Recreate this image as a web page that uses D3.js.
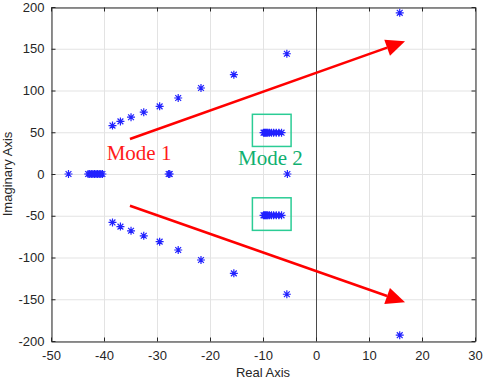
<!DOCTYPE html>
<html>
<head>
<meta charset="utf-8">
<script src="https://cdn.jsdelivr.net/npm/d3@7"></script>
<style>
	html, body { margin: 0; padding: 0; background: #fff; }
	svg { display: block; }
</style>
</head>
<body>
<svg id="chart"></svg>
<script>
// poles
const upperRe = [-38.4, -36.9, -34.9, -32.5, -29.5, -26.0, -21.7, -15.5, -5.5, 15.8];
const upperIm = [58, 63, 68, 74, 81, 91, 103, 119, 144, 193];
const lowerRe = [-38.4, -36.9, -34.9, -32.5, -29.5, -26.0, -21.7, -15.5, -5.5, 15.8];
const lowerIm = [-58, -63, -68, -74, -81, -91, -103, -119, -144, -193];
const realAxisRe = [-46.7, -43.0, -42.7, -42.4, -42.1, -41.8, -41.5, -41.2, -40.9, -40.6, -40.3, -27.8, -27.6, -5.4];
const mode2Re = [-9.9, -9.7, -9.5, -9.3, -9.1, -8.8, -8.4, -8.0, -7.5, -7.0, -6.5];
const mode2UpperIm = 49.5;
const mode2LowerIm = -49.5;

const xTicks = [-50, -40, -30, -20, -10, 0, 10, 20, 30];
const yTicks = [-200, -150, -100, -50, 0, 50, 100, 150, 200];

// annotations (data coords)
const arrows = [
	[[-35.1, 41.9], [16.8, 158.9]],
	[[-35.1, -38.0], [16.8, -153.6]],
];
const mode2Boxes = [
	{x0: -12.0, x1: -4.7, y0: 33.0, y1: 71.5},
	{x0: -12.0, x1: -4.7, y0: -67.5, y1: -28.5},
];
const labels = [
	{text: "Mode 1", x: -39.5, y: 16.8, color: "#ff1a1a"},
	{text: "Mode 2", x: -14.7, y: 10.8, color: "#10b070"},
];

const width = 484, height = 380;
const pLeft = 51, pRight = 475, pTop = 7, pBottom = 341;
const axisColor = "#262626";

const svg = d3.select("#chart").attr("width", width).attr("height", height);

const x = d3.scaleLinear([-50, 30], [pLeft, pRight]);
const y = d3.scaleLinear([-200, 200], [pBottom, pTop]);

// grid
const grid = svg.append("g").attr("stroke", "#e3e3e3").attr("stroke-width", 1);
grid.selectAll("line.gx").data(xTicks).join("line")
	.attr("x1", d => x(d) + 0.5).attr("x2", d => x(d) + 0.5)
	.attr("y1", pTop).attr("y2", pBottom);
grid.selectAll("line.gy").data(yTicks).join("line")
	.attr("y1", d => y(d) + 0.5).attr("y2", d => y(d) + 0.5)
	.attr("x1", pLeft).attr("x2", pRight);

// real-axis zero line
svg.append("line")
	.attr("x1", x(0) + 0.5).attr("x2", x(0) + 0.5)
	.attr("y1", pTop).attr("y2", pBottom)
	.attr("stroke", "#4a4a4a").attr("stroke-width", 1);

// axes (ticks inward on all four sides)
const fontAxis = "'Liberation Sans', Arial, sans-serif";
const plain = d => String(d); // keep ascii hyphen like MATLAB
function styleAxis(g) {
	g.attr("font-family", fontAxis).attr("font-size", 13);
	g.selectAll("path, line").attr("stroke", axisColor);
	g.selectAll("text").attr("fill", axisColor);
}
svg.append("g").attr("transform", `translate(0,${pBottom + 0.5})`)
	.call(d3.axisBottom(x).tickValues(xTicks).tickFormat(plain).tickSizeInner(-4).tickSizeOuter(0).tickPadding(9))
	.call(styleAxis);
svg.append("g").attr("transform", `translate(0,${pTop + 0.5})`)
	.call(d3.axisTop(x).tickValues(xTicks).tickSizeInner(-4).tickSizeOuter(0).tickFormat(""))
	.call(styleAxis);
svg.append("g").attr("transform", `translate(${pLeft + 0.5},0)`)
	.call(d3.axisLeft(y).tickValues(yTicks).tickFormat(plain).tickSizeInner(-4).tickSizeOuter(0).tickPadding(7))
	.call(styleAxis);
svg.append("g").attr("transform", `translate(${pRight + 0.5},0)`)
	.call(d3.axisRight(y).tickValues(yTicks).tickSizeInner(-4).tickSizeOuter(0).tickFormat(""))
	.call(styleAxis);

// axis titles
svg.append("text")
	.attr("x", (pLeft + pRight) / 2).attr("y", 377)
	.attr("text-anchor", "middle")
	.attr("font-family", fontAxis).attr("font-size", 13).attr("fill", axisColor)
	.text("Real Axis");
svg.append("text")
	.attr("transform", `translate(12,${(pTop + pBottom) / 2}) rotate(-90)`)
	.attr("text-anchor", "middle")
	.attr("font-family", fontAxis).attr("font-size", 13).attr("fill", axisColor)
	.text("Imaginary Axis");

// green boxes round mode 2
svg.append("g").selectAll("rect").data(mode2Boxes).join("rect")
	.attr("x", d => x(d.x0)).attr("y", d => y(d.y1))
	.attr("width", d => x(d.x1) - x(d.x0)).attr("height", d => y(d.y0) - y(d.y1))
	.attr("fill", "none").attr("stroke", "#2bcc95").attr("stroke-width", 1.5);

// poles as MATLAB-like asterisks
const points = [];
upperRe.forEach((r, i) => points.push([r, upperIm[i]]));
lowerRe.forEach((r, i) => points.push([r, lowerIm[i]]));
realAxisRe.forEach(r => points.push([r, 0]));
mode2Re.forEach(r => points.push([r, mode2UpperIm]));
mode2Re.forEach(r => points.push([r, mode2LowerIm]));

const star = "M-4,0H4M0,-4V4M-2.9,-2.9L2.9,2.9M-2.9,2.9L2.9,-2.9";
svg.append("g")
	.attr("fill", "none").attr("stroke", "#2222ff").attr("stroke-width", 1.2)
	.selectAll("path").data(points).join("path")
	.attr("transform", d => `translate(${x(d[0])},${y(d[1])})`)
	.attr("d", star);

// red arrows
const arrowG = svg.append("g");
arrows.forEach(([a, b]) => {
	const x0 = x(a[0]), y0 = y(a[1]), x1 = x(b[0]), y1 = y(b[1]);
	const ang = Math.atan2(y1 - y0, x1 - x0);
	const len = 19, half = 8.5;
	const bx = x1 - len * Math.cos(ang), by = y1 - len * Math.sin(ang);
	arrowG.append("line")
		.attr("x1", x0).attr("y1", y0).attr("x2", bx).attr("y2", by)
		.attr("stroke", "#ff0000").attr("stroke-width", 2.5);
	arrowG.append("path")
		.attr("d", `M${x1},${y1}L${bx - half * Math.sin(ang)},${by + half * Math.cos(ang)}L${bx + half * Math.sin(ang)},${by - half * Math.cos(ang)}Z`)
		.attr("fill", "#ff0000");
});

// mode labels
svg.append("g").selectAll("text").data(labels).join("text")
	.attr("x", d => x(d.x)).attr("y", d => y(d.y))
	.attr("font-family", "'Liberation Serif', 'Times New Roman', serif")
	.attr("font-size", 21)
	.attr("fill", d => d.color)
	.text(d => d.text);
</script>
</body>
</html>
